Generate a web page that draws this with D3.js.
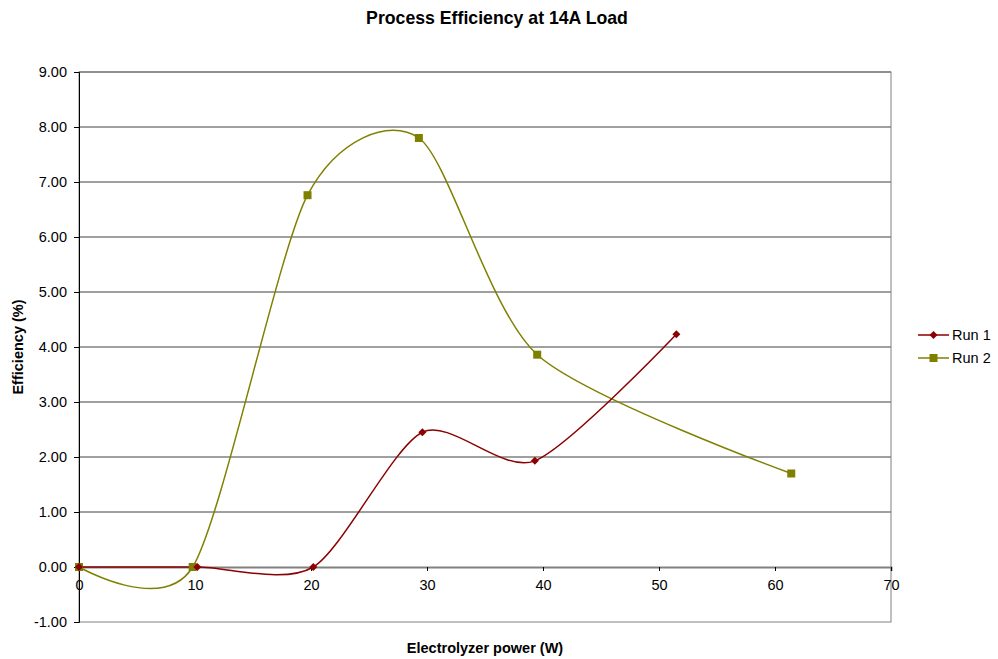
<!DOCTYPE html>
<html>
<head>
  <meta charset="UTF-8">
  <style>
    body { margin: 0; background: #fff; }
    text { font-family: 'Liberation Sans', Arial, sans-serif; fill: #000; }
    .title { font-size: 17.7px; font-weight: bold; text-anchor: middle; }
    .axis-label { font-size: 14.5px; font-weight: bold; text-anchor: middle; }
    .legend-label { font-size: 14.5px; }
  </style>
</head>
<body>
  <script src="https://d3js.org/d3.v7.min.js"></script>
  <svg id="chart" width="998" height="659"></svg>
  <script>
    // data
    let run1X = [0, 10.2, 20.2, 29.6, 39.3, 51.5];
    let run1Y = [0, 0, 0, 2.45, 1.93, 4.23];
    let run2X = [0, 9.8, 19.7, 29.3, 39.5, 61.4];
    let run2Y = [0, 0, 6.76, 7.80, 3.86, 1.70];
    let xTicks = [0, 10, 20, 30, 40, 50, 60, 70];
    let yTicks = [-1, 0, 1, 2, 3, 4, 5, 6, 7, 8, 9];

    let margin = {top: 72, left: 79, right: 891, bottom: 622};

    let svg = d3.select("#chart");

    let x = d3.scaleLinear().domain([0, 70]).range([margin.left, margin.right]);
    let y = d3.scaleLinear().domain([-1, 9]).range([margin.bottom, margin.top]);

    // horizontal gridlines
    svg.append("g")
      .selectAll("line")
      .data(yTicks.filter(d => d != 0 && d != -1))
      .enter()
      .append("line")
        .attr("x1", margin.left).attr("x2", margin.right)
        .attr("y1", d => y(d)).attr("y2", d => y(d))
        .attr("stroke", "#404040").attr("stroke-width", 1);

    // plot border
    svg.append("rect")
      .attr("x", margin.left).attr("y", margin.top)
      .attr("width", margin.right - margin.left)
      .attr("height", margin.bottom - margin.top)
      .attr("fill", "none").attr("stroke", "#808080").attr("stroke-width", 1);

    // Y axis
    let yAxis = svg.append("g")
      .attr("transform", "translate(" + margin.left + ",0)")
      .call(d3.axisLeft(y).tickValues(yTicks).tickFormat(d3.format(".2f")).tickSize(5).tickPadding(7));
    yAxis.select(".domain").attr("stroke", "#000");
    yAxis.selectAll(".tick line").attr("stroke", "#000");
    yAxis.selectAll("text")
      .style("font-size", "14.5px")
      .style("font-family", "'Liberation Sans', Arial, sans-serif")
      .text(d => d < 0 ? "-" + d3.format(".2f")(-d) : d3.format(".2f")(d));

    // X axis at y = 0
    let xAxis = svg.append("g")
      .attr("transform", "translate(0," + y(0) + ")")
      .call(d3.axisBottom(x).tickValues(xTicks).tickSize(4).tickPadding(9));
    xAxis.select(".domain").attr("stroke", "#808080").attr("stroke-width", 2);
    xAxis.selectAll(".tick line").attr("stroke", "#000");
    xAxis.selectAll("text")
      .style("font-size", "14.5px")
      .style("font-family", "'Liberation Sans', Arial, sans-serif");

    // series
    let series = [
      {name: "Run 1", xs: run1X, ys: run1Y, color: "#8b0000", marker: "diamond"},
      {name: "Run 2", xs: run2X, ys: run2Y, color: "#808000", marker: "square"}
    ];

    // smoothed line, close to Excel's smoothing
    let line = d3.line()
      .x(d => x(d[0]))
      .y(d => y(d[1]))
      .curve(d3.curveCardinal.tension(0.22));

    function drawMarker(g, type, color) {
      if (type == "diamond") {
        g.append("path").attr("d", "M0,-4L4,0L0,4L-4,0Z").attr("fill", color);
      } else {
        g.append("rect").attr("x", -4).attr("y", -4).attr("width", 8).attr("height", 8).attr("fill", color);
      }
    }

    // draw run 2 first so run 1 sits on top at the origin
    series.slice().reverse().forEach(s => {
      let pts = s.xs.map((v, i) => [v, s.ys[i]]);
      svg.append("path")
        .datum(pts)
        .attr("d", line)
        .attr("fill", "none")
        .attr("stroke", s.color)
        .attr("stroke-width", 1.5);
    });
    series.slice().reverse().forEach(s => {
      s.xs.forEach((v, i) => {
        let g = svg.append("g").attr("transform", "translate(" + x(v) + "," + y(s.ys[i]) + ")");
        drawMarker(g, s.marker, s.color);
      });
    });

    // legend
    series.forEach((s, i) => {
      let ly = 335 + i * 23;
      svg.append("line")
        .attr("x1", 918).attr("x2", 949)
        .attr("y1", ly).attr("y2", ly)
        .attr("stroke", s.color).attr("stroke-width", 1.5);
      let g = svg.append("g").attr("transform", "translate(933.5," + ly + ")");
      drawMarker(g, s.marker, s.color);
      svg.append("text")
        .attr("class", "legend-label")
        .attr("x", 952).attr("y", ly + 5)
        .text(s.name);
    });

    // titles
    svg.append("text").attr("class", "title").attr("x", 497).attr("y", 24)
      .text("Process Efficiency at 14A Load");
    svg.append("text").attr("class", "axis-label").attr("x", 485).attr("y", 653)
      .text("Electrolyzer power (W)");
    svg.append("text").attr("class", "axis-label")
      .attr("transform", "translate(23," + ((margin.top + margin.bottom) / 2) + ") rotate(-90)")
      .text("Efficiency (%)");
  </script>
</body>
</html>
